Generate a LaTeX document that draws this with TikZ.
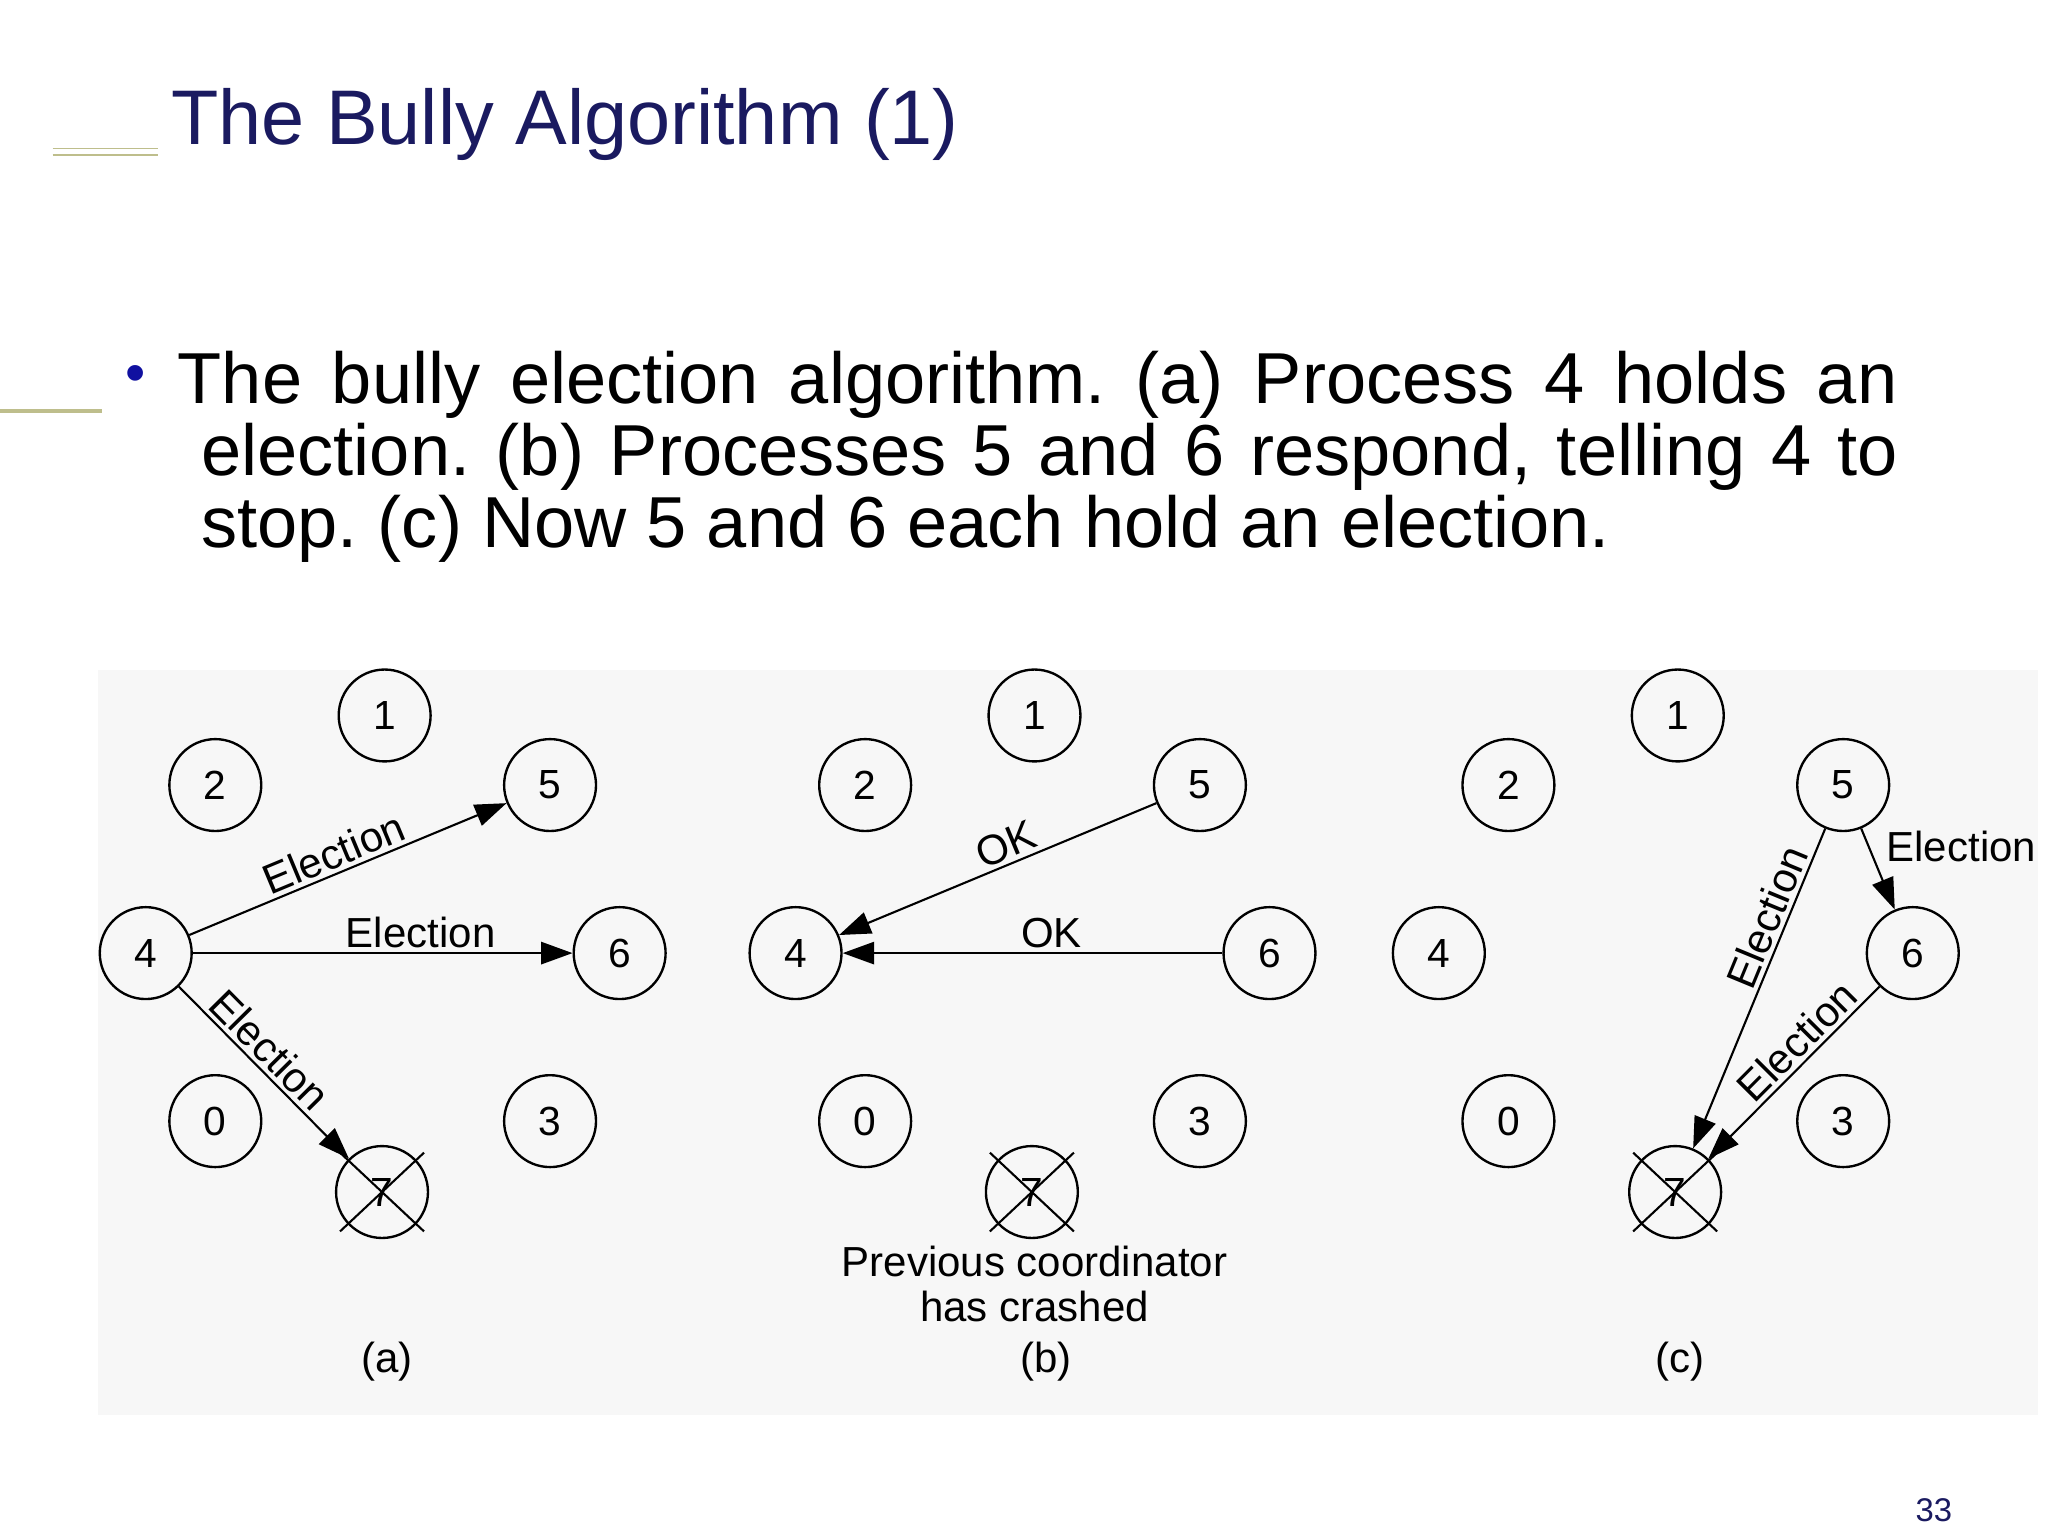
\documentclass[tikz,border=0pt]{standalone}
\usepackage{fontspec}
\setmainfont{Liberation Sans}
\usetikzlibrary{arrows.meta}
\definecolor{navy}{RGB}{26,26,96}
\definecolor{olive}{RGB}{190,190,140}
\frenchspacing
\begin{document}
\begin{tikzpicture}[x=0.5pt,y=-0.5pt,
  proc/.style={circle,draw,line width=0.9pt,minimum size=35pt,inner sep=0pt,font=\fontsize{15.5}{15.5}\selectfont},
  msg/.style={line width=0.8pt,-{Triangle[length=12pt,width=8.5pt]}},
  lab/.style={font=\fontsize{16}{17}\selectfont,inner sep=1.5pt}]
\useasboundingbox (0,0) rectangle (1560,1170);
\fill[white] (0,0) rectangle (1560,1170);
\fill[black!3] (75,510) rectangle (1552,1078);
% title
\node[anchor=base west,inner sep=0,text=navy,font=\fontsize{29.5}{30}\selectfont] (title) at (130,110) {The Bully Algorithm (1)};
\draw[olive,line width=0.6pt] (40,113) -- (120,113) (40,118) -- (120,118);
\draw[olive,line width=1.5pt] (0,313) -- (78,313);
% bullet
\node[text=navy!60!blue,font=\fontsize{22}{22}\selectfont,inner sep=0] (bul) at (103,289) {•};
\begin{scope}[every node/.style={anchor=base west,inner sep=0,font=\fontsize{27.5}{28}\selectfont}]
\node (l1) at (135,307) {\makebox[655pt][s]{The bully election algorithm. (a) Process 4 holds an}};
\node (l2) at (153,362) {\makebox[646pt][s]{election. (b) Processes 5 and 6 respond, telling 4 to}};
\node (l3) at (153,417) {stop. (c) Now 5 and 6 each hold an election.};
\end{scope}
% panels
\foreach \p/\dx in {a/0,b/495,c/985}{
  \node[proc] (\p1) at (293+\dx,545) {1};
  \node[proc] (\p2) at (164+\dx,598) {2};
  \node[proc] (\p5) at (419+\dx,598) {5};
  \node[proc] (\p4) at (111+\dx,726) {4};
  \node[proc] (\p6) at (472+\dx,726) {6};
  \node[proc] (\p0) at (164+\dx,854) {0};
  \node[proc] (\p3) at (419+\dx,854) {3};
  \node[proc] (\p7) at (291+\dx,908) {7};
  \draw[line width=0.8pt] ([shift={(-32,-30)}]\p7.center) -- ([shift={(32,30)}]\p7.center)
        ([shift={(32,-30)}]\p7.center) -- ([shift={(-32,30)}]\p7.center);
}
\node[lab] (capa) at (295,1037) {(a)};
\node[lab] (capb) at (797,1037) {(b)};
\node[lab] (capc) at (1280,1037) {(c)};
\node[lab,align=center] (prev) at (788,978) {Previous coordinator\\has crashed};
% (a)
\draw[msg] (a4) -- node[lab,sloped,above,pos=0.48] {Election} (a5);
\draw[msg] (a4) -- node[lab,above,pos=0.6] {Election} (a6);
\draw[msg] (a4) -- node[lab,sloped,above,pos=0.45] {Election} (a7);
% (b)
\draw[msg] (b5) -- node[lab,sloped,above,pos=0.45] {OK} (b4);
\draw[msg] (b6) -- node[lab,above,pos=0.45] {OK} (b4);
% (c)
\draw[msg] (c5) -- node[lab,sloped,above,pos=0.3] {Election} (c7);
\draw[msg] (c5) -- (c6);
\node[lab] (celab) at (1494,645) {Election};
\draw[msg] (c6) -- node[lab,sloped,above,pos=0.4] {Election} (c7);
% page number
\node[text=navy,font=\fontsize{12.5}{12.5}\selectfont] (pg) at (1473,1150) {33};
\end{tikzpicture}
\end{document}
